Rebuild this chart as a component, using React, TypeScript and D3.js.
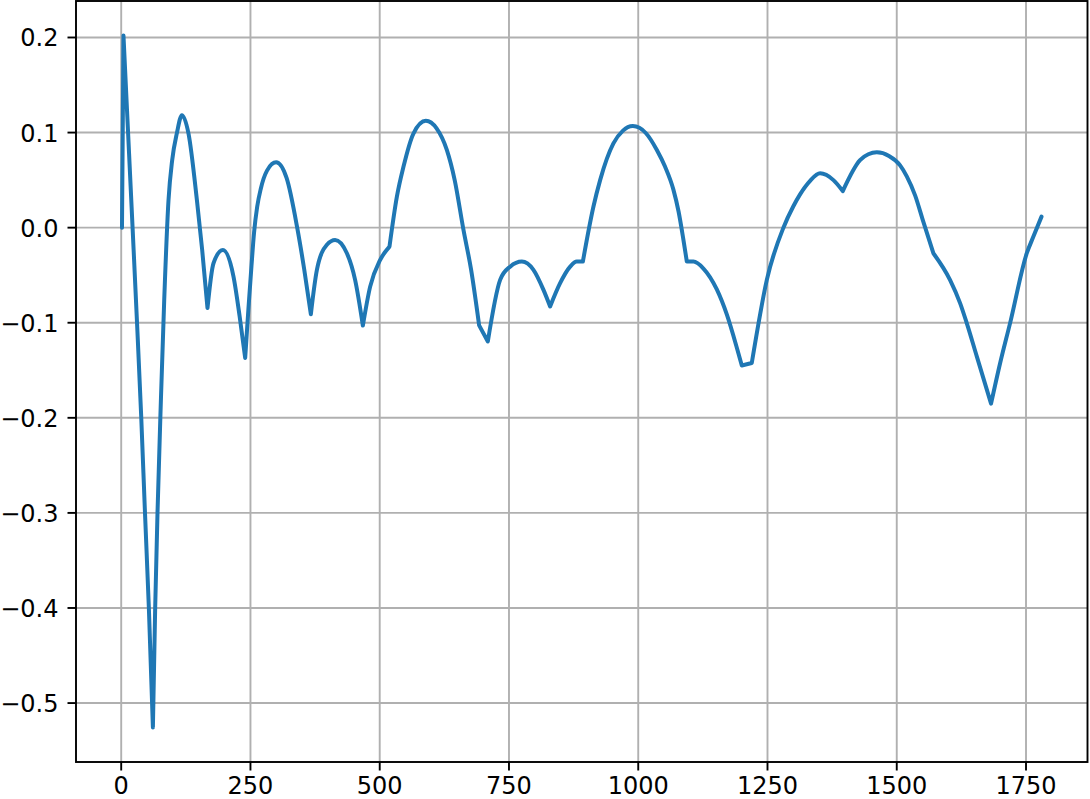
import React from "react";
import * as d3 from "d3";

// values (x in samples, y in signal units)
const xValues = [
	1.5, 4.4, 13.3, 22, 30.6, 38.8, 46, 53.5, 61.3,
	65.7, 70.2, 76.8, 83.2, 91.5, 98.6, 107.7, 117.4, 130.1, 146.4,
	156.6, 166.9, 178.5, 196.7, 217.2, 229.1, 239.8, 246, 252, 257,
	263, 270, 282, 299.7, 320, 340.4, 354, 366.8, 378.5, 397.8, 413.8, 436.5,
	452.4, 467.4, 481.5, 500.9, 518.9, 533.2, 545.9, 565.2, 589.2, 610, 629.8, 645,
	662, 676.8, 692.3, 709.1, 732.9, 752.3, 774.9, 797.3, 816.7, 829.6,
	848.9, 868.3, 881.1, 892.9, 913.4, 926.3, 952, 970, 989.6, 1015, 1036, 1052, 1068, 1078,
	1087.4, 1094, 1106.8, 1126.1, 1152, 1171.3, 1191.8, 1200.3, 1219.6, 1224, 1248.7,
	1280.8, 1300, 1313, 1332, 1351.8, 1377.5, 1395.6, 1429, 1445, 1461.4, 1485, 1506.5, 1519.4,
	1535.5, 1551.5, 1570.8, 1603, 1622.5, 1635.4, 1654.8, 1682.4, 1700, 1719.2,
	1751.5, 1764.3, 1780,
];
const yValues = [
	0, 0.202, 0.1, 0, -0.1, -0.2, -0.3, -0.4, -0.5256,
	-0.4, -0.3, -0.181, -0.076, 0.029, 0.071, 0.0994, 0.1183, 0.0991, 0.0291,
	-0.0234, -0.0846, -0.0374, -0.0234, -0.0514, -0.0934, -0.137, -0.086, -0.04, -0.005,
	0.022, 0.041, 0.06, 0.0687, 0.052, 0, -0.044, -0.091, -0.0444, -0.018, -0.0129, -0.0269,
	-0.0549, -0.103, -0.062, -0.0339, -0.0199, 0.0326, 0.064, 0.099, 0.1124, 0.1044, 0.0817, 0.05,
	-0.0024, -0.0444, -0.1028, -0.1197, -0.0549, -0.041, -0.0357, -0.0444, -0.0654, -0.0829,
	-0.0584, -0.041, -0.0357, -0.0357, 0.0222, 0.05, 0.0886, 0.1018, 0.1068, 0.0993, 0.0817, 0.064, 0.04, 0.017,
	-0.0128, -0.0357, -0.0357, -0.043, -0.065, -0.0913, -0.1284, -0.1449, -0.1424, -0.128, -0.0549,
	0, 0.0225, 0.035, 0.049, 0.0571, 0.05, 0.0385, 0.0711, 0.0772, 0.0792, 0.0754, 0.0655, 0.054,
	0.034, 0.006, -0.0269, -0.0549, -0.0794, -0.1004, -0.1354, -0.1851, -0.1424, -0.1004,
	-0.0269, -0.0094, 0.0116,
];
// x positions where the curve has a corner
const kinkXs = [4.4, 61.3, 166.9, 239.8, 366.8, 467.4, 518.9, 692.3, 709.1, 829.6, 892.9, 1094, 1200.3, 1219.6, 1395.6, 1570.8, 1682.4];

const xTicks = [0, 250, 500, 750, 1000, 1250, 1500, 1750];
const yTicks = [-0.5, -0.4, -0.3, -0.2, -0.1, 0.0, 0.1, 0.2];

const width = 1090;
const height = 799;
const plot = { left: 76, right: 1087.5, top: 1, bottom: 762 };
const font = "'DejaVu Sans', sans-serif";

const App = () => {
	const data = xValues.map((x, i) => ({ x, y: yValues[i] }));

	// matplotlib style 5% margins
	const [x0, x1] = d3.extent(xValues) as [number, number];
	const [y0, y1] = d3.extent(yValues) as [number, number];
	const mx = (x1 - x0) * 0.05;
	const my = (y1 - y0) * 0.05;

	const x = d3.scaleLinear().domain([x0 - mx, x1 + mx]).range([plot.left, plot.right]);
	const y = d3.scaleLinear().domain([y0 - my, y1 + my]).range([plot.bottom, plot.top]);

	// split at corners so each smooth arc is drawn on its own
	const segments: { x: number; y: number }[][] = [[]];
	data.forEach(d => {
		segments[segments.length - 1].push(d);
		if (kinkXs.includes(d.x)) segments.push([d]);
	});

	const p = d3.path();
	let started = false;
	const ctx: any = {
		moveTo(a: number, b: number) {
			if (!started) { p.moveTo(a, b); started = true; }
		},
		lineTo: (a: number, b: number) => p.lineTo(a, b),
		bezierCurveTo: (a: number, b: number, c: number, d: number, e: number, f: number) => p.bezierCurveTo(a, b, c, d, e, f),
		closePath() {},
	};
	const line = d3.line<{ x: number; y: number }>()
		.x(d => x(d.x))
		.y(d => y(d.y))
		.curve(d3.curveMonotoneX)
		.context(ctx);
	segments.filter(s => s.length > 1).forEach(s => line(s));

	const fmt = (v: number) => d3.format(".1f")(v).replace("-", "\u2212");

	return (
		<>
			<style>{`body{margin:0}`}</style>
			<svg width={width} height={height} style={{ display: "block", background: "#fff" }}>
				{/* grid */}
				{xTicks.map(t => (
					<line key={"gx" + t} x1={x(t)} x2={x(t)} y1={plot.top} y2={plot.bottom} stroke="#b0b0b0" strokeWidth={1.9} />
				))}
				{yTicks.map(t => (
					<line key={"gy" + t} x1={plot.left} x2={plot.right} y1={y(t)} y2={y(t)} stroke="#b0b0b0" strokeWidth={1.9} />
				))}

				<path d={p.toString()} fill="none" stroke="#1f77b4" strokeWidth={4} strokeLinejoin="round" strokeLinecap="round" />

				{/* spines */}
				<rect x={plot.left} y={plot.top} width={plot.right - plot.left} height={plot.bottom - plot.top} fill="none" stroke="#000" strokeWidth={1.9} />

				{/* ticks */}
				{xTicks.map(t => (
					<g key={"tx" + t}>
						<line x1={x(t)} x2={x(t)} y1={plot.bottom} y2={plot.bottom + 8.5} stroke="#000" strokeWidth={1.9} />
						<text x={x(t)} y={794} textAnchor="middle" fontFamily={font} fontSize={24} fill="#000">{t}</text>
					</g>
				))}
				{yTicks.map(t => (
					<g key={"ty" + t}>
						<line x1={plot.left - 8.5} x2={plot.left} y1={y(t)} y2={y(t)} stroke="#000" strokeWidth={1.9} />
						<text x={58.5} y={y(t) + 9} textAnchor="end" fontFamily={font} fontSize={24} fill="#000">{fmt(t)}</text>
					</g>
				))}
			</svg>
		</>
	);
};

export default App;
